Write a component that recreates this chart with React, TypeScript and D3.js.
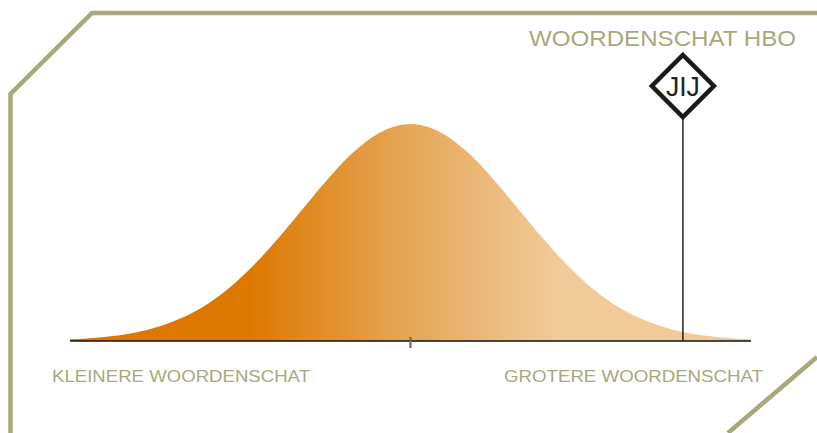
import React, { useEffect, useRef } from "react";
import * as d3 from "d3";

// score in standard deviations from the mean, and curve height as % of the peak
const scores = [
  -3.15, -3, -2.75, -2.5, -2.25, -2, -1.75, -1.5, -1.25, -1, -0.75, -0.5, -0.25, 0,
  0.25, 0.5, 0.75, 1, 1.25, 1.5, 1.75, 2, 2.25, 2.5, 2.75, 3, 3.15,
];
const heights = [
  0.7, 1.1, 2.3, 4.4, 8, 13.5, 21.6, 32.5, 45.8, 60.7, 75.5, 88.2, 96.9, 100,
  96.9, 88.2, 75.5, 60.7, 45.8, 32.5, 21.6, 13.5, 8, 4.4, 2.3, 1.1, 0.7,
];

const title = "WOORDENSCHAT HBO";
const markerLabel = "JIJ";
const markerScore = 2.52;
const axisLabels = ["KLEINERE WOORDENSCHAT", "GROTERE WOORDENSCHAT"];

const olive = "#a8a87c";

const App = () => {
  const svgRef = useRef(null);

  useEffect(() => {
    const svg = d3.select(svgRef.current);
    svg.selectAll("*").remove();

    const width = 817;
    const height = 433;
    const baseY = 341;

    const xScale = d3.scaleLinear().domain([-3.15, 3.15]).range([70, 751]);
    const yScale = d3.scaleLinear().domain([0, 100]).range([baseY, 124]);

    // frame with the cut corners
    svg
      .append("path")
      .attr("d", `M${width},13 L92,13 L10.5,94 L10.5,${height}`)
      .attr("fill", "none")
      .attr("stroke", olive)
      .attr("stroke-width", 4.5);
    svg
      .append("path")
      .attr("d", `M${width},357 L728,${height}`)
      .attr("fill", "none")
      .attr("stroke", olive)
      .attr("stroke-width", 4.5);

    // gradient for the curve
    const grad = svg
      .append("defs")
      .append("linearGradient")
      .attr("id", "bellFill")
      .attr("gradientUnits", "userSpaceOnUse")
      .attr("x1", xScale(-1.5))
      .attr("x2", xScale(1.35))
      .attr("y1", 0)
      .attr("y2", 0);
    grad.append("stop").attr("offset", "0%").attr("stop-color", "#dc7800");
    grad.append("stop").attr("offset", "22%").attr("stop-color", "#e08c24");
    grad.append("stop").attr("offset", "55%").attr("stop-color", "#e6a95c");
    grad.append("stop").attr("offset", "100%").attr("stop-color", "#f1ca99");

    const points = scores.map((s, i) => [s, heights[i]]);

    const area = d3
      .area()
      .x((d) => xScale(d[0]))
      .y0(baseY)
      .y1((d) => yScale(d[1]))
      .curve(d3.curveCatmullRom);

    svg.append("path").datum(points).attr("fill", "url(#bellFill)").attr("d", area);

    // baseline
    svg
      .append("line")
      .attr("x1", xScale(-3.15))
      .attr("x2", xScale(3.15))
      .attr("y1", baseY)
      .attr("y2", baseY)
      .attr("stroke", "#111")
      .attr("stroke-width", 1.5);

    // tick at the mean
    svg
      .append("line")
      .attr("x1", xScale(0))
      .attr("x2", xScale(0))
      .attr("y1", baseY - 4)
      .attr("y2", baseY + 7)
      .attr("stroke", "#6e6e5e")
      .attr("stroke-width", 2.2);

    // marker "JIJ"
    const mx = xScale(markerScore);
    const my = 86;
    const r = 31;
    svg
      .append("line")
      .attr("x1", mx)
      .attr("x2", mx)
      .attr("y1", my + r)
      .attr("y2", baseY)
      .attr("stroke", "#222")
      .attr("stroke-width", 1.5);
    svg
      .append("path")
      .attr("d", `M${mx},${my - r} L${mx + r},${my} L${mx},${my + r} L${mx - r},${my} Z`)
      .attr("fill", "#fff")
      .attr("stroke", "#1a1a1a")
      .attr("stroke-width", 4.5)
      .attr("stroke-linejoin", "miter");
    svg
      .append("text")
      .attr("x", mx)
      .attr("y", my + 10)
      .attr("text-anchor", "middle")
      .attr("font-family", "Liberation Sans, Arial, sans-serif")
      .attr("font-size", 28)
      .attr("fill", "#222")
      .attr("textLength", 34)
      .attr("lengthAdjust", "spacingAndGlyphs")
      .text(markerLabel);

    // title and axis labels
    svg
      .append("text")
      .attr("x", 796)
      .attr("y", 46)
      .attr("text-anchor", "end")
      .attr("font-family", "Liberation Sans, Arial, sans-serif")
      .attr("font-size", 22)
      .attr("fill", olive)
      .attr("textLength", 267)
      .attr("lengthAdjust", "spacingAndGlyphs")
      .text(title);

    svg
      .append("text")
      .attr("x", 52)
      .attr("y", 382)
      .attr("font-family", "Liberation Sans, Arial, sans-serif")
      .attr("font-size", 17)
      .attr("fill", olive)
      .attr("textLength", 258)
      .attr("lengthAdjust", "spacingAndGlyphs")
      .text(axisLabels[0]);

    svg
      .append("text")
      .attr("x", 504)
      .attr("y", 382)
      .attr("font-family", "Liberation Sans, Arial, sans-serif")
      .attr("font-size", 17)
      .attr("fill", olive)
      .attr("textLength", 259)
      .attr("lengthAdjust", "spacingAndGlyphs")
      .text(axisLabels[1]);
  }, []);

  return (
    <svg
      ref={svgRef}
      width={817}
      height={433}
      style={{ position: "fixed", left: 0, top: 0, background: "#fff" }}
    />
  );
};

export default App;
